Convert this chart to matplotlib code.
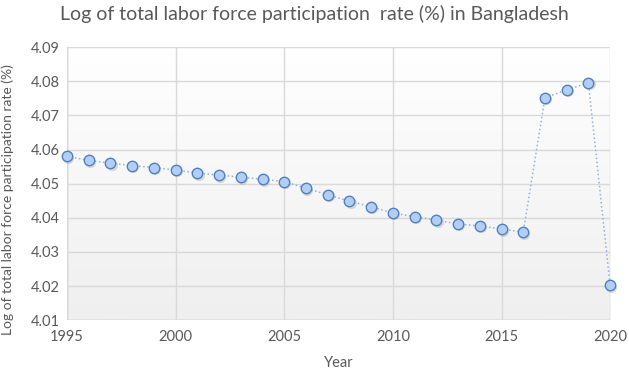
import matplotlib
matplotlib.use("Agg")
import matplotlib.pyplot as plt
import matplotlib.transforms as mtransforms
import numpy as np

# data
years = list(range(1995, 2021))
log_lfpr = [4.0580, 4.0568, 4.0560, 4.0553, 4.0547, 4.0540, 4.0531, 4.0525,
            4.0519, 4.0513, 4.0506, 4.0487, 4.0467, 4.0449, 4.0432, 4.0414,
            4.0403, 4.0393, 4.0382, 4.0376, 4.0367, 4.0358, 4.0751, 4.0775,
            4.0795, 4.0202]
x_ticks = [1995, 2000, 2005, 2010, 2015, 2020]
y_ticks = [4.01, 4.02, 4.03, 4.04, 4.05, 4.06, 4.07, 4.08, 4.09]

plt.rcParams['font.family'] = ['Lato', 'DejaVu Sans']
txt = '#595959'
grid_c = '#d9d9d9'

fig = plt.figure(figsize=(6.29, 3.74), dpi=100)
ax = fig.add_axes([0.1065, 0.144, 0.8635, 0.730])

# plot area gradient (white top -> light gray bottom)
grad = np.linspace(1.0, 0.0, 256).reshape(-1, 1)
ax.imshow(grad, extent=[0, 1, 0, 1], transform=ax.transAxes, aspect='auto',
          cmap=matplotlib.colors.LinearSegmentedColormap.from_list(
              'bg', ['#efefef', '#ffffff']), zorder=0)

ax.set_xlim(1995, 2020)
ax.set_ylim(4.01, 4.09)
ax.set_xticks(x_ticks)
ax.set_yticks(y_ticks)
ax.set_yticklabels([f'{v:.2f}' for v in y_ticks])
ax.grid(True, color=grid_c, lw=1, zorder=1)
for s in ax.spines.values():
    s.set_visible(False)
ax.axhline(4.01, color='#bfbfbf', lw=1, zorder=1)
ax.axvline(1995, color='#bfbfbf', lw=1, zorder=1)
ax.tick_params(axis='y', length=0, labelsize=10.5, colors=txt, pad=5)
ax.tick_params(axis='x', length=0, labelsize=10.5, colors=txt, pad=7)

# soft shadow under markers
shadow = mtransforms.offset_copy(ax.transData, fig=fig, x=1.2, y=-1.5, units='dots')
ax.plot(years, log_lfpr, ls='none', marker='o', ms=8, mfc='#b0b0b0', mec='none',
        alpha=0.45, transform=shadow, zorder=2, clip_on=False)

ax.plot(years, log_lfpr, ls=':', lw=1.1, color='#8fb0de', marker='o', ms=7.5,
        mfc='#b3cef5', mec='#4f81bd', mew=1.0, zorder=3, clip_on=False)

ax.set_xlabel('Year', fontsize=10.5, color=txt, labelpad=9)
ax.set_ylabel('Log of total labor force participation rate (%)', fontsize=10,
              color=txt, labelpad=4)
ax.yaxis.set_label_coords(-0.097, 0.44)
fig.text(0.5, 0.962, 'Log of total labor force participation  rate (%) in Bangladesh',
         ha='center', va='center', fontsize=14, color=txt)

fig.savefig('out.png', dpi=100)
